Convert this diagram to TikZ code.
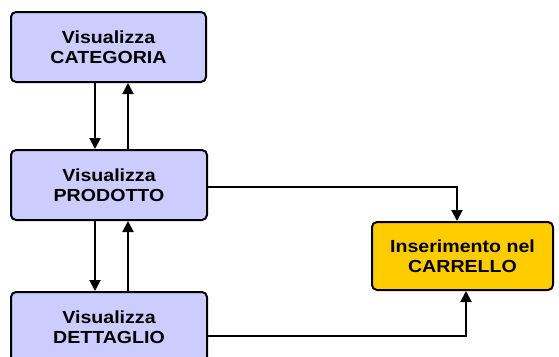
\documentclass[tikz,border=0pt]{standalone}
\usepackage{fontspec}
\setmainfont{Liberation Sans}[FakeStretch=1.12]
\usetikzlibrary{arrows.meta}
\begin{document}
\begin{tikzpicture}[x=1pt,y=-1pt,
  box/.style={draw=black,line width=2pt,rounded corners=5pt,align=center,
    font=\fontsize{17.5}{20.5}\selectfont\bfseries,inner sep=0pt},
  blue/.style={box,fill={rgb,255:red,204;green,204;blue,255}},
  gold/.style={box,fill={rgb,255:red,255;green,204;blue,0}},
  arr/.style={line width=2pt,-{Triangle[length=11pt,width=11pt]}}]
\useasboundingbox (0,0) rectangle (559,356);
\node[blue,minimum width=195pt,minimum height=70pt] (cat) at (108.5,47) {Visualizza\\CATEGORIA};
\node[blue,minimum width=196pt,minimum height=70pt] (prod) at (109,185) {Visualizza\\PRODOTTO};
\node[blue,minimum width=196pt,minimum height=70pt] (det) at (109,327) {Visualizza\\DETTAGLIO};
\node[gold,minimum width=181pt,minimum height=68pt] (car) at (462.5,256) {Inserimento nel\\CARRELLO};
\draw[arr] (cat.south -| 95,0) -- (prod.north -| 95,0);
\draw[arr] (prod.north -| 128,0) -- (cat.south -| 128,0);
\draw[arr] (prod.south -| 95,0) -- (det.north -| 95,0);
\draw[arr] (det.north -| 128,0) -- (prod.south -| 128,0);
\draw[arr] ([yshift=-2pt]prod.east) -| ([xshift=-5.5pt]car.north);
\draw[arr] ([yshift=-9pt]det.east) -| ([xshift=3.5pt]car.south);
\end{tikzpicture}
\end{document}
